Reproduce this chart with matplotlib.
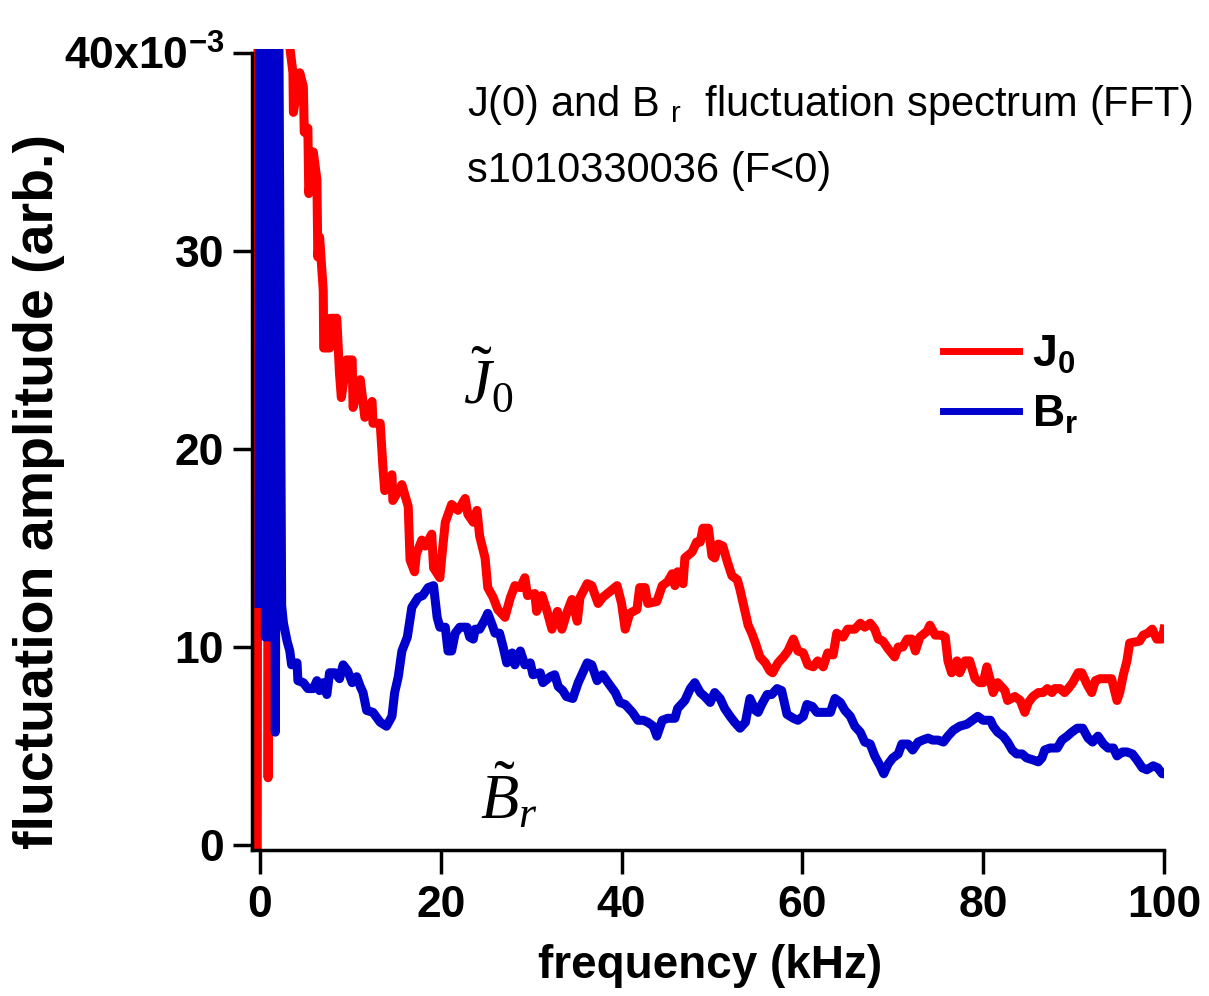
import numpy as np
import matplotlib
matplotlib.use("Agg")
import matplotlib.pyplot as plt

# J(0) spectrum, frequency in kHz, amplitude in units of 1e-3 (values > 40 run off the top)
j0_freq = [-0.3, -0.2, 0.7, 0.9, 1.2, 3.2, 3.3, 3.65, 3.7, 4.4, 4.8, 4.9, 5.3, 5.4, 5.9, 6.3,
           6.4, 6.6, 7.0, 7.05, 7.7, 7.75, 8.5, 8.8, 9.0, 9.6, 10.2, 10.3, 11.1, 11.6, 12.4, 12.5,
           13.3, 13.6, 13.8, 14.6, 14.7, 15.7, 16.4, 16.6, 17.1, 17.3, 17.9, 18.3, 19.0, 19.2,
           19.9, 20.1, 20.5, 21.2, 21.9, 22.7, 23.0, 23.6, 24.0, 24.3, 24.9, 25.2, 25.8, 26.3,
           27.1, 27.7, 28.2, 28.8, 29.3, 29.6, 30.4, 30.6, 31.2, 31.7, 32.3, 32.9, 33.4, 34.0,
           34.5, 35.1, 35.4, 36.2, 36.7, 37.4, 37.9, 38.7, 39.5, 40.0, 40.4, 40.9, 41.7, 42.0,
           42.6, 42.9, 43.9, 44.5, 45.1, 45.6, 45.9, 46.2, 46.8, 47.0, 47.8, 48.3, 48.7, 49.0,
           49.6, 50.0, 50.3, 50.7, 51.2, 51.7, 52.2, 52.8, 53.1, 53.7, 54.0, 54.4, 54.8, 55.3,
           55.9, 56.4, 56.7, 57.3, 57.9, 58.4, 59.0, 59.5, 60.1, 60.6, 61.2, 61.7, 62.3, 62.8,
           63.4, 63.8, 64.5, 65.0, 65.8, 66.4, 66.9, 67.5, 68.0, 68.4, 68.9, 69.5, 70.2, 70.6,
           71.1, 71.6, 72.1, 72.5, 73.0, 73.8, 74.1, 74.7, 75.4, 75.8, 76.1, 76.5, 77.1, 77.4,
           78.0, 78.5, 79.1, 79.6, 80.0, 80.4, 80.8, 81.1, 81.6, 82.4, 82.7, 83.5, 84.1, 84.6,
           85.0, 85.5, 86.1, 86.6, 87.1, 87.6, 87.9, 88.5, 89.0, 89.4, 89.9, 90.5, 90.9, 91.5,
           92.0, 92.4, 92.9, 94.2, 94.8, 95.1, 95.5, 95.9, 96.2, 97.3, 97.7, 98.2, 98.7, 99.2,
           99.8, 100.0]
j0_amp = [0.0, 50, 50, 3.4, 50, 50, 40.3, 39.0, 37.0, 39.0, 38.3, 36.0, 36.2, 32.9, 35.0, 33.6,
          29.7, 30.7, 28.0, 25.1, 25.1, 26.6, 26.6, 23.8, 22.6, 24.5, 24.5, 22.1, 23.5, 21.6, 22.4, 21.3,
          21.3, 19.1, 17.9, 18.7, 17.4, 18.2, 17.1, 14.4, 13.8, 14.7, 15.4, 15.1, 15.7, 14.0,
          13.5, 14.5, 16.3, 17.2, 16.9, 17.5, 16.7, 16.3, 16.9, 15.6, 14.5, 13.0, 12.5, 11.9,
          11.5, 12.5, 13.1, 13.0, 13.5, 12.6, 12.7, 11.8, 12.6, 11.9, 10.9, 11.8, 10.9, 11.8,
          12.4, 11.3, 12.5, 13.2, 13.1, 12.2, 12.5, 12.8, 13.1, 12.2, 10.9, 11.7, 11.9, 13.0,
          13.0, 12.2, 12.3, 13.1, 13.3, 13.7, 13.1, 13.8, 13.2, 14.5, 14.8, 15.3, 15.3, 16.0,
          16.0, 14.6, 14.5, 15.2, 15.1, 14.3, 13.6, 13.4, 12.9, 11.7, 11.1, 10.7, 10.2, 9.5,
          9.2, 8.8, 8.7, 9.2, 9.5, 9.8, 10.4, 9.8, 9.7, 9.1, 9.0, 9.3, 9.0, 9.7,
          9.6, 10.7, 10.5, 10.9, 10.9, 11.2, 11.0, 11.2, 10.9, 10.4, 10.3, 9.9, 9.5, 10.0,
          10.0, 10.4, 10.4, 9.8, 10.5, 10.8, 11.1, 10.6, 10.6, 10.5, 9.3, 8.7, 9.3, 8.7,
          9.3, 9.3, 8.4, 8.2, 8.2, 9.0, 8.3, 7.7, 8.2, 7.8, 7.3, 7.5, 7.3, 6.7,
          7.2, 7.5, 7.7, 7.7, 7.9, 7.7, 7.9, 7.9, 7.7, 7.9, 8.2, 8.7, 8.7, 8.1,
          7.7, 8.3, 8.4, 8.4, 7.3, 7.7, 8.6, 9.3, 10.2, 10.3, 10.6, 10.7, 10.9, 10.4,
          10.4, 10.9]

# B_r spectrum
br_freq = [-0.1, 0.0, 0.3, 0.5, 0.6, 0.9, 1.1, 1.4, 1.7, 2.0, 2.4, 2.6, 3.0, 3.3, 3.5, 4.1,
           4.2, 4.8, 5.3, 5.9, 6.3, 6.6, 7.0, 7.4, 7.7, 8.3, 8.8, 9.2, 9.7, 10.2, 10.7, 11.1,
           11.4, 11.8, 12.5, 13.3, 14.0, 14.6, 14.9, 15.3, 15.7, 16.3, 16.8, 17.5, 18.0, 18.6,
           19.2, 19.6, 19.9, 20.5, 20.8, 21.2, 21.6, 22.1, 22.9, 23.2, 23.6, 23.8, 24.3, 24.9,
           25.2, 25.7, 26.0, 26.5, 26.9, 27.3, 27.9, 28.2, 28.8, 29.3, 29.9, 30.2, 31.0, 31.3,
           32.1, 32.6, 33.0, 33.5, 33.9, 34.6, 35.2, 35.7, 36.2, 36.7, 37.3, 37.9, 38.5, 39.3,
           39.8, 40.4, 41.2, 41.8, 42.4, 42.9, 43.5, 43.9, 44.5, 45.1, 45.9, 46.2, 47.0, 47.6,
           48.1, 48.7, 49.2, 49.8, 50.3, 50.9, 51.4, 52.0, 52.5, 53.1, 53.7, 54.2, 54.8, 55.1,
           55.5, 56.1, 56.6, 57.2, 57.7, 58.3, 59.0, 59.5, 60.1, 60.5, 61.1, 61.6, 62.3, 63.1,
           63.6, 64.2, 64.7, 65.3, 65.8, 66.4, 66.9, 67.5, 68.0, 68.6, 69.0, 69.5, 70.0, 70.6,
           71.0, 71.7, 72.2, 72.8, 73.3, 73.9, 74.4, 75.0, 75.6, 76.1, 76.7, 77.4, 78.2, 78.8,
           79.4, 80.0, 80.8, 81.1, 81.6, 82.2, 82.7, 83.2, 83.7, 84.3, 84.8, 85.5, 86.1, 86.5,
           86.8, 87.4, 88.2, 88.7, 89.3, 89.8, 90.4, 91.0, 91.6, 92.1, 92.7, 93.3, 93.8, 94.4,
           94.8, 95.4, 95.9, 96.5, 97.0, 97.6, 98.1, 98.8, 99.3, 99.8, 100.0]
br_amp = [12.2, 50, 12.5, 50, 10.5, 23.5, 10.5, 50, 5.7, 50, 12.1, 11.2, 10.3, 9.8, 9.1, 9.2,
          8.3, 8.2, 7.9, 7.9, 8.3, 7.8, 8.2, 7.6, 8.7, 8.7, 8.4, 9.1, 8.8, 8.2, 8.5, 8.0,
          7.7, 6.8, 6.7, 6.2, 6.0, 6.5, 7.7, 8.5, 9.8, 10.5, 12.0, 12.5, 12.6, 13.0,
          13.1, 11.5, 11.0, 11.0, 9.8, 9.8, 10.7, 11.0, 11.0, 10.5, 10.4, 10.9, 10.9, 11.4,
          11.7, 11.1, 10.7, 10.7, 10.0, 9.2, 9.7, 9.1, 9.8, 9.1, 9.2, 8.6, 8.7, 8.2,
          8.5, 8.6, 8.0, 7.8, 7.5, 7.4, 8.2, 8.7, 9.2, 9.1, 8.3, 8.6, 8.2, 7.7,
          7.2, 7.1, 6.7, 6.3, 6.3, 6.2, 6.0, 5.5, 6.3, 6.4, 6.4, 6.9, 7.3, 7.9,
          8.2, 7.7, 7.5, 7.2, 7.7, 7.4, 6.9, 6.5, 6.2, 5.9, 6.2, 7.4, 6.8, 6.7,
          7.1, 7.6, 7.6, 7.9, 7.8, 6.6, 6.4, 6.3, 6.5, 7.1, 7.0, 6.7, 6.7, 6.7,
          7.4, 7.2, 6.8, 6.5, 6.0, 5.7, 5.2, 5.1, 4.5, 4.0, 3.6, 4.1, 4.4, 4.6,
          5.1, 5.1, 4.8, 5.2, 5.3, 5.4, 5.3, 5.3, 5.2, 5.5, 5.8, 6.0, 6.1, 6.3,
          6.5, 6.3, 6.3, 6.0, 5.7, 5.5, 5.2, 4.8, 4.6, 4.6, 4.4, 4.3, 4.2, 4.4,
          4.8, 4.9, 4.9, 5.3, 5.5, 5.7, 5.9, 5.9, 5.4, 5.2, 5.5, 5.1, 4.9, 4.9,
          4.5, 4.7, 4.7, 4.6, 4.3, 3.9, 3.8, 4.0, 3.9, 3.6, 3.6]

y_ticks = [0, 10, 20, 30, 40]
y_ticklabels = ['0', '10', '20', '30', r'40x10$^{\mathregular{-3}}$']
x_ticks = [0, 20, 40, 60, 80, 100]

plt.rcParams['font.family'] = ['Liberation Sans', 'DejaVu Sans']
plt.rcParams['font.weight'] = 'bold'
# serif italic for the tilde labels (used only where math_fontfamily='custom')
plt.rcParams['mathtext.it'] = 'Liberation Serif:italic:normal'
plt.rcParams['mathtext.rm'] = 'Liberation Serif:normal'

fig = plt.figure(figsize=(12.09, 9.96), dpi=100)
ax = fig.add_axes([0.2084, 0.1466, 0.7544, 0.8042])

ax.plot(j0_freq, j0_amp, color='#ff0000', lw=6.5, label=r'J$_\mathregular{0}$')
ax.plot(br_freq, br_amp, color='#0000cc', lw=6.5, label=r'B$_\mathregular{r}$')

ax.set_xlim(-0.885, 100)
ax.set_ylim(-0.25, 40.2)
ax.spines['top'].set_visible(False)
ax.spines['right'].set_visible(False)
ax.spines['left'].set_bounds(-0.25, 40)
ax.spines['bottom'].set_bounds(-0.885, 100)
for s in ['left', 'bottom']:
    ax.spines[s].set_linewidth(2.5)

ax.set_yticks(y_ticks)
ax.set_yticklabels(y_ticklabels)
ax.set_xticks(x_ticks)
ax.tick_params(axis='y', length=14, width=2.5, pad=6, labelsize=32)
ax.tick_params(axis='x', length=17, width=2.5, pad=8, labelsize=32)

ax.set_xlabel('frequency (kHz)', fontsize=33, fontweight='bold')
ax.xaxis.set_label_coords(0.502, -0.117)
ax.set_ylabel('fluctuation amplitude (arb.)', fontsize=40, fontweight='bold')
ax.yaxis.set_label_coords(-0.205, 0.448)

fig.text(0.386, 0.8835, r'J(0) and B $_\mathregular{r}$  fluctuation spectrum (FFT)',
         fontsize=30, fontweight='normal', va='baseline')
fig.text(0.386, 0.8173, 's1010330036 (F<0)', fontsize=30, fontweight='normal', va='baseline')

ax.text(22.5, 22.3, r'$\tilde{J}_0$', fontsize=45, fontweight='normal', math_fontfamily='custom', va='baseline')
ax.text(24.3, 1.3, r'$\tilde{B}_r$', fontsize=45, fontweight='normal', math_fontfamily='custom', va='baseline')

leg = ax.legend(loc='upper left', bbox_to_anchor=(943 / 1209, 1 - 334 / 996), bbox_transform=fig.transFigure,
                frameon=False, fontsize=32, handlelength=1.7, handletextpad=0.3, labelspacing=0.4,
                borderpad=0, borderaxespad=0)
for line in leg.get_lines():
    line.set_linewidth(5)

fig.savefig('out.png', dpi=100)
